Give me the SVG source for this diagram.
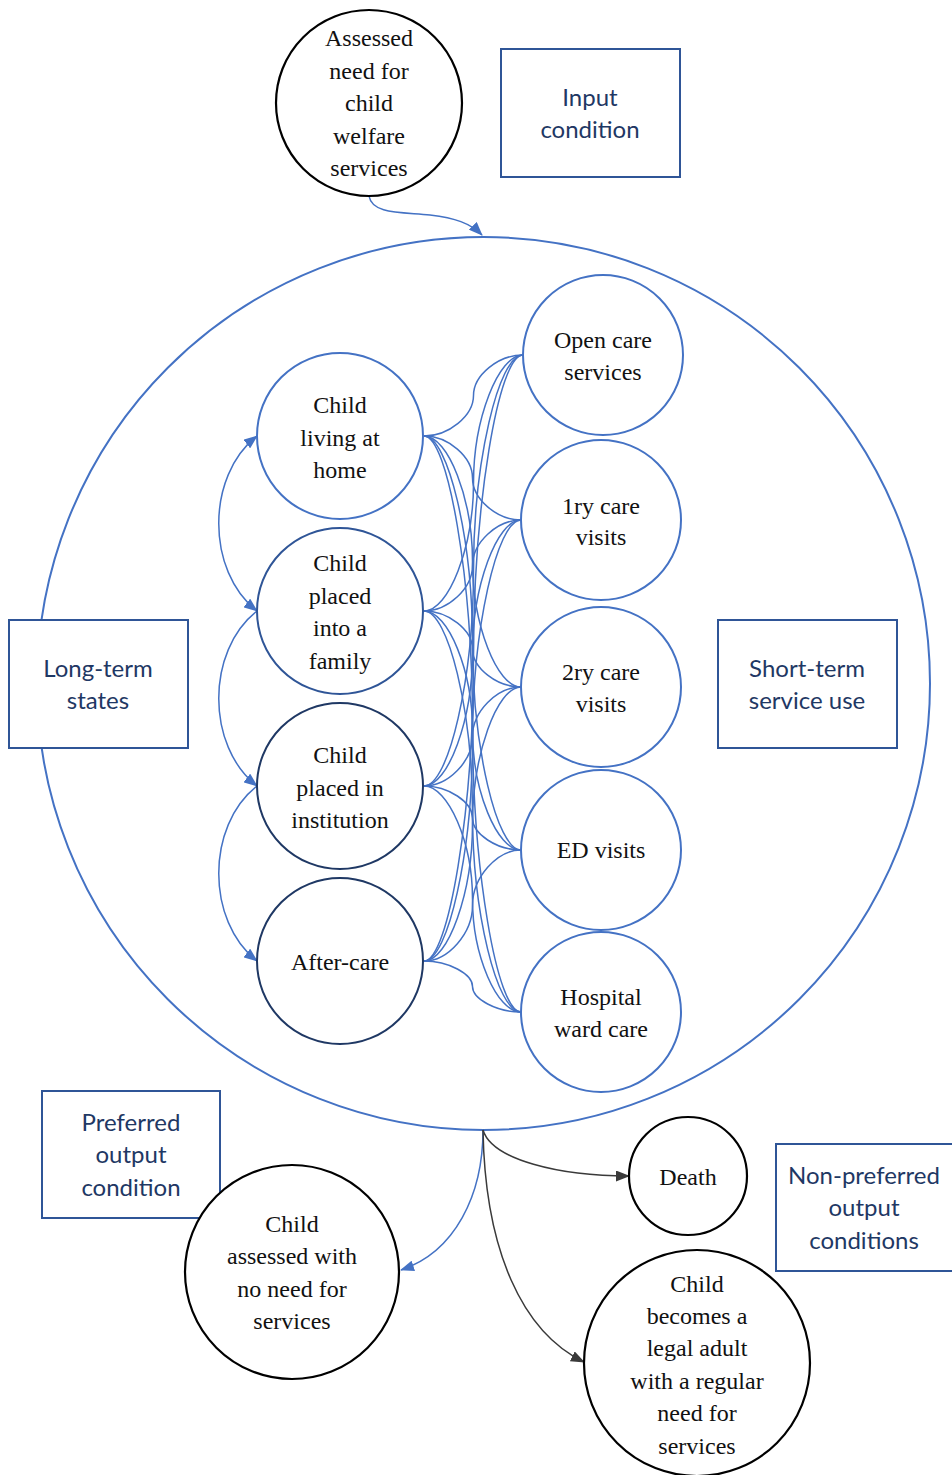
<svg xmlns="http://www.w3.org/2000/svg" width="952" height="1475" viewBox="0 0 952 1475">
  <style>
    .serif { font-family: "Liberation Serif", "DejaVu Serif", serif; font-size: 24px; fill: #111; text-anchor: middle; }
    .sans { font-family: Lato, "Open Sans", sans-serif; font-size: 24px; fill: #1F3864; text-anchor: middle; }
    .box { fill: #fff; stroke: #2F5597; stroke-width: 2; }
    .blk { fill: #fff; stroke: #000; stroke-width: 2.2; }
    .blu { fill: #fff; stroke: #4472C4; stroke-width: 2; }
    .nav1 { fill: #fff; stroke: #2F5597; stroke-width: 2; }
    .nav2 { fill: #fff; stroke: #1F3864; stroke-width: 2; }
    .link { fill: none; stroke: #4472C4; stroke-width: 1.5; }
    .dark { fill: none; stroke: #3A3A3A; stroke-width: 1.5; }
  </style>
  <defs>
    <marker id="ab" viewBox="0 0 14 11" refX="13" refY="5.5" markerWidth="14" markerHeight="11" markerUnits="userSpaceOnUse" orient="auto-start-reverse">
      <path d="M0,0 L14,5.5 L0,11 Z" fill="#4472C4"/>
    </marker>
    <marker id="ad" viewBox="0 0 14 11" refX="13" refY="5.5" markerWidth="14" markerHeight="11" markerUnits="userSpaceOnUse" orient="auto">
      <path d="M0,0 L14,5.5 L0,11 Z" fill="#3A3A3A"/>
    </marker>
  </defs>

  <!-- outer system boundary -->
  <circle id="system" cx="483.5" cy="683.5" r="446.5" fill="none" stroke="#4472C4" stroke-width="2"/>

  <!-- connectors -->
  <g id="connectors">
    <!-- entry and exits -->
    <path class="link" d="M369,196 C372,214 400,212 430,215 C455,218 470,223 482,235" marker-end="url(#ab)"/>
    <path class="link" d="M483,1130 C483,1195 455,1252 401,1270" marker-end="url(#ab)"/>
    <path class="dark" d="M483,1130 C492,1160 560,1176 629,1176" marker-end="url(#ad)"/>
    <path class="dark" d="M483,1130 C485,1250 522,1332 584,1362" marker-end="url(#ad)"/>

    <!-- transitions between long-term states -->
    <path class="link" d="M257,436 C206,476 206,571 257,611" marker-start="url(#ab)" marker-end="url(#ab)"/>
    <path class="link" d="M257,611 C206,651 206,746 257,786" marker-end="url(#ab)"/>
    <path class="link" d="M257,786 C206,826 206,921 257,961" marker-end="url(#ab)"/>

    <!-- long-term states to short-term services -->
    <path class="link" d="M424,436 C448.75,436 473.5,415.75 473.5,395.5 C473.5,375.25 498.25,355 523,355"/>
    <path class="link" d="M424,436 C448.25,436 472.5,457 472.5,478 C472.5,499 496.75,520 521,520"/>
    <path class="link" d="M424,436 C448.25,436 472.5,498.75 472.5,561.5 C472.5,624.25 496.75,687 521,687"/>
    <path class="link" d="M424,436 C448.25,436 472.5,539.5 472.5,643 C472.5,746.5 496.75,850 521,850"/>
    <path class="link" d="M424,436 C448.25,436 472.5,580 472.5,724 C472.5,868 496.75,1012 521,1012"/>

    <path class="link" d="M424,611 C448.75,611 473.5,547 473.5,483 C473.5,419 498.25,355 523,355"/>
    <path class="link" d="M424,611 C448.25,611 472.5,588.25 472.5,565.5 C472.5,542.75 496.75,520 521,520"/>
    <path class="link" d="M424,611 C448.25,611 472.5,630 472.5,649 C472.5,668 496.75,687 521,687"/>
    <path class="link" d="M424,611 C448.25,611 472.5,670.75 472.5,730.5 C472.5,790.25 496.75,850 521,850"/>
    <path class="link" d="M424,611 C448.25,611 472.5,711.25 472.5,811.5 C472.5,911.75 496.75,1012 521,1012"/>

    <path class="link" d="M424,786 C448.75,786 473.5,678.25 473.5,570.5 C473.5,462.75 498.25,355 523,355"/>
    <path class="link" d="M424,786 C448.25,786 472.5,719.5 472.5,653 C472.5,586.5 496.75,520 521,520"/>
    <path class="link" d="M424,786 C448.25,786 472.5,761.25 472.5,736.5 C472.5,711.75 496.75,687 521,687"/>
    <path class="link" d="M424,786 C448.25,786 472.5,802 472.5,818 C472.5,834 496.75,850 521,850"/>
    <path class="link" d="M424,786 C448.25,786 472.5,842.5 472.5,899 C472.5,955.5 496.75,1012 521,1012"/>

    <path class="link" d="M424,961 C448.75,961 473.5,809.5 473.5,658 C473.5,506.5 498.25,355 523,355"/>
    <path class="link" d="M424,961 C448.25,961 472.5,850.75 472.5,740.5 C472.5,630.25 496.75,520 521,520"/>
    <path class="link" d="M424,961 C448.25,961 472.5,892.5 472.5,824 C472.5,755.5 496.75,687 521,687"/>
    <path class="link" d="M424,961 C448.25,961 472.5,933.25 472.5,905.5 C472.5,877.75 496.75,850 521,850"/>
    <path class="link" d="M424,961 C448.25,961 472.5,973.75 472.5,986.5 C472.5,999.25 496.75,1012 521,1012"/>
  </g>

  <!-- input -->
  <g id="n-assessed">
    <circle class="blk" cx="369" cy="103" r="93"/>
    <text class="serif"><tspan x="369" y="46">Assessed</tspan><tspan x="369" y="79">need for</tspan><tspan x="369" y="111">child</tspan><tspan x="369" y="144">welfare</tspan><tspan x="369" y="176">services</tspan></text>
  </g>
  <g id="lbl-input">
    <rect class="box" x="501" y="49" width="179" height="128"/>
    <text class="sans"><tspan x="590" y="106">Input</tspan><tspan x="590" y="138">condition</tspan></text>
  </g>

  <!-- group labels -->
  <g id="lbl-long">
    <rect class="box" x="9" y="620" width="179" height="128"/>
    <text class="sans"><tspan x="98" y="677">Long-term</tspan><tspan x="98" y="709">states</tspan></text>
  </g>
  <g id="lbl-short">
    <rect class="box" x="718" y="620" width="179" height="128"/>
    <text class="sans"><tspan x="807" y="677">Short-term</tspan><tspan x="807" y="709">service use</tspan></text>
  </g>

  <!-- long-term states -->
  <g id="n-home">
    <circle class="blu" cx="340" cy="436" r="83"/>
    <text class="serif"><tspan x="340" y="413">Child</tspan><tspan x="340" y="446">living at</tspan><tspan x="340" y="478">home</tspan></text>
  </g>
  <g id="n-family">
    <circle class="nav1" cx="340" cy="611" r="83"/>
    <text class="serif"><tspan x="340" y="571">Child</tspan><tspan x="340" y="604">placed</tspan><tspan x="340" y="636">into a</tspan><tspan x="340" y="669">family</tspan></text>
  </g>
  <g id="n-institution">
    <circle class="nav2" cx="340" cy="786" r="83"/>
    <text class="serif"><tspan x="340" y="763">Child</tspan><tspan x="340" y="796">placed in</tspan><tspan x="340" y="828">institution</tspan></text>
  </g>
  <g id="n-aftercare">
    <circle class="nav2" cx="340" cy="961" r="83"/>
    <text class="serif" x="340" y="970">After-care</text>
  </g>

  <!-- short-term services -->
  <g id="n-open">
    <circle class="blu" cx="603" cy="355" r="80"/>
    <text class="serif"><tspan x="603" y="348">Open care</tspan><tspan x="603" y="380">services</tspan></text>
  </g>
  <g id="n-1ry">
    <circle class="blu" cx="601" cy="520" r="80"/>
    <text class="serif"><tspan x="601" y="514">1ry care</tspan><tspan x="601" y="545">visits</tspan></text>
  </g>
  <g id="n-2ry">
    <circle class="blu" cx="601" cy="687" r="80"/>
    <text class="serif"><tspan x="601" y="680">2ry care</tspan><tspan x="601" y="712">visits</tspan></text>
  </g>
  <g id="n-ed">
    <circle class="blu" cx="601" cy="850" r="80"/>
    <text class="serif" x="601" y="858">ED visits</text>
  </g>
  <g id="n-ward">
    <circle class="blu" cx="601" cy="1012" r="80"/>
    <text class="serif"><tspan x="601" y="1005">Hospital</tspan><tspan x="601" y="1037">ward care</tspan></text>
  </g>

  <!-- outputs -->
  <g id="lbl-preferred">
    <rect class="box" x="42" y="1091" width="178" height="127"/>
    <text class="sans"><tspan x="131" y="1131">Preferred</tspan><tspan x="131" y="1163">output</tspan><tspan x="131" y="1196">condition</tspan></text>
  </g>
  <g id="n-noneed">
    <circle class="blk" cx="292" cy="1272" r="107"/>
    <text class="serif"><tspan x="292" y="1232">Child</tspan><tspan x="292" y="1264">assessed with</tspan><tspan x="292" y="1297">no need for</tspan><tspan x="292" y="1329">services</tspan></text>
  </g>
  <g id="n-death">
    <circle class="blk" cx="688" cy="1176" r="59"/>
    <text class="serif" x="688" y="1185">Death</text>
  </g>
  <g id="lbl-nonpreferred">
    <rect class="box" x="776" y="1144" width="180" height="127"/>
    <text class="sans"><tspan x="864" y="1184">Non-preferred</tspan><tspan x="864" y="1216">output</tspan><tspan x="864" y="1249">conditions</tspan></text>
  </g>
  <g id="n-adult">
    <circle class="blk" cx="697" cy="1363" r="113"/>
    <text class="serif"><tspan x="697" y="1292">Child</tspan><tspan x="697" y="1324">becomes a</tspan><tspan x="697" y="1356">legal adult</tspan><tspan x="697" y="1389">with a regular</tspan><tspan x="697" y="1421">need for</tspan><tspan x="697" y="1454">services</tspan></text>
  </g>
</svg>
